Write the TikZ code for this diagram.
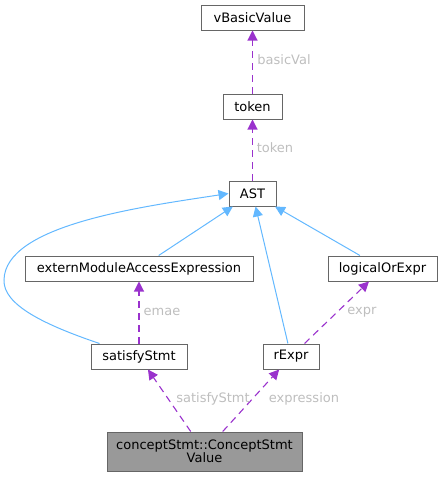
\documentclass[tikz,border=0pt]{standalone}
\usepackage{fontspec}
\setmainfont{DejaVu Sans}
\usetikzlibrary{arrows.meta}
\definecolor{useedge}{RGB}{154,50,205}
\definecolor{inhedge}{RGB}{99,184,255}
\definecolor{boxline}{RGB}{102,102,102}
\definecolor{boxfill}{RGB}{153,153,153}
\definecolor{lblgray}{RGB}{190,190,190}

\begin{document}
\begin{tikzpicture}[x=1pt, y=-1pt, font=\fontsize{13}{13.5}\selectfont,
  cls/.style={draw=boxline, fill=white, line width=1pt, minimum height=25pt, inner sep=0pt},
  usage/.style={useedge, line width=1.1pt, dash pattern=on 7pt off 5pt,
    -{Triangle[length=10pt, width=10pt]}},
  inherit/.style={inhedge, line width=1pt, -{Triangle[length=10pt, width=10pt]}},
  elabel/.style={lblgray, inner sep=0pt}]
  \useasboundingbox (0,0) rectangle (444,477);

  % classes
  \node[cls, minimum width=103pt] (basicval) at (252.5,17.5) {vBasicValue};
  \node[cls, minimum width=59pt] (tok) at (252.5,106.5) {token};
  \node[cls, minimum width=47pt] (ast) at (252.5,193.5) {AST};
  \node[cls, minimum width=228pt] (emae) at (139,268.5) {externModuleAccessExpression};
  \node[cls, minimum width=109pt] (lor) at (382.5,268.5) {logicalOrExpr};
  \node[cls, minimum width=96pt] (sat) at (139,356.5) {satisfyStmt};
  \node[cls, minimum width=56pt] (rexpr) at (291,356.5) {rExpr};
  \node[cls, fill=boxfill, minimum width=195pt, minimum height=39pt, align=center]
    (csv) at (204.5,451.5) {conceptStmt::ConceptStmt\\Value};

  % inheritance
  \draw[inherit] (emae) -- (ast);
  \draw[inherit] (lor) -- (ast);
  \draw[inherit] (rexpr) -- (ast);
  \draw[inherit] ([xshift=9pt]sat.north west) .. controls (45,325) and (3,305) .. (4,280)
    .. controls (5,225) and (140,207) .. (ast.west);

  % members
  \draw[usage] (tok) -- (basicval);
  \draw[usage] (ast) -- (tok);
  \draw[usage] (sat) -- (emae);
  \draw[usage] (rexpr) -- (lor);
  \draw[usage] (csv) -- (sat);
  \draw[usage] (csv) -- (rexpr);

  % member names
  \node[elabel] (l1) at (284,60) {basicVal};
  \node[elabel] (l2) at (275,148) {token};
  \node[elabel] (l3) at (162,312) {emae};
  \node[elabel] (l4) at (362,312) {expr};
  \node[elabel] (l5) at (213,399) {satisfyStmt};
  \node[elabel] (l6) at (304,399) {expression};
\end{tikzpicture}
\end{document}
